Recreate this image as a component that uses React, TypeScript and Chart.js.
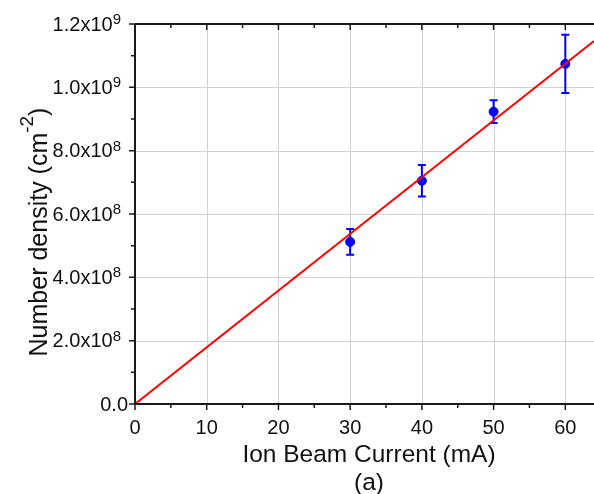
import React, { useEffect, useRef } from "react";
import { Chart, registerables } from "chart.js";

Chart.register(...registerables);

const xValues = [30, 40, 50, 60];
const yValues = [5.12e8, 7.05e8, 9.23e8, 10.74e8];
const yErrors = [0.41e8, 0.5e8, 0.36e8, 0.92e8];
const fitX = [0, 64];
const fitY = [0, 1.146e9];
const xMajorTicks = [0, 10, 20, 30, 40, 50, 60];
const xMinorTicks = [5, 15, 25, 35, 45, 55];
const yMajorTicks = [0, 2e8, 4e8, 6e8, 8e8, 1e9, 1.2e9];
const yMinorTicks = [1e8, 3e8, 5e8, 7e8, 9e8, 1.1e9];
const yTickMain = ["0.0", "2.0x10", "4.0x10", "6.0x10", "8.0x10", "1.0x10", "1.2x10"];
const yTickExp = ["", "8", "8", "8", "8", "9", "9"];

const FONT = "'Liberation Sans', Arial, sans-serif";

const customPlugin = {
  id: "custom",
  beforeDatasetsDraw(chart: any) {
    const ctx = chart.ctx;
    const xs = chart.scales.x;
    const ys = chart.scales.y;
    const a = chart.chartArea;
    ctx.save();
    ctx.strokeStyle = "#d2d2d2";
    ctx.lineWidth = 1;
    xMajorTicks.forEach((v) => {
      if (v === 0) return;
      const px = Math.round(xs.getPixelForValue(v)) + 0.5;
      ctx.beginPath();
      ctx.moveTo(px, a.top);
      ctx.lineTo(px, a.bottom);
      ctx.stroke();
    });
    yMajorTicks.forEach((v) => {
      if (v === 0 || v === 1.2e9) return;
      const py = Math.round(ys.getPixelForValue(v)) + 0.5;
      ctx.beginPath();
      ctx.moveTo(a.left, py);
      ctx.lineTo(a.right, py);
      ctx.stroke();
    });
    // error bars
    ctx.strokeStyle = "#0000ff";
    ctx.lineWidth = 2;
    xValues.forEach((x, i) => {
      const px = xs.getPixelForValue(x);
      const top = ys.getPixelForValue(yValues[i] + yErrors[i]);
      const bot = ys.getPixelForValue(yValues[i] - yErrors[i]);
      ctx.beginPath();
      ctx.moveTo(px, top);
      ctx.lineTo(px, bot);
      ctx.moveTo(px - 4, top);
      ctx.lineTo(px + 4, top);
      ctx.moveTo(px - 4, bot);
      ctx.lineTo(px + 4, bot);
      ctx.stroke();
    });
    ctx.restore();
  },
  afterDraw(chart: any) {
    const ctx = chart.ctx;
    const xs = chart.scales.x;
    const ys = chart.scales.y;
    const a = chart.chartArea;
    ctx.save();
    ctx.strokeStyle = "#1a1a1a";
    ctx.lineWidth = 2;
    ctx.beginPath();
    ctx.moveTo(a.left, a.top);
    ctx.lineTo(a.left, a.bottom);
    ctx.lineTo(a.right, a.bottom);
    ctx.moveTo(a.left, a.top);
    ctx.lineTo(a.right, a.top);
    ctx.stroke();
    ctx.lineWidth = 1.5;
    ctx.beginPath();
    xMajorTicks.forEach((v) => {
      const px = xs.getPixelForValue(v);
      ctx.moveTo(px, a.bottom);
      ctx.lineTo(px, a.bottom + 6);
      ctx.moveTo(px, a.top);
      ctx.lineTo(px, a.top + 6);
    });
    xMinorTicks.forEach((v) => {
      const px = xs.getPixelForValue(v);
      ctx.moveTo(px, a.bottom);
      ctx.lineTo(px, a.bottom + 4);
      ctx.moveTo(px, a.top);
      ctx.lineTo(px, a.top + 4);
    });
    yMajorTicks.forEach((v) => {
      const py = ys.getPixelForValue(v);
      ctx.moveTo(a.left, py);
      ctx.lineTo(a.left - 6, py);
    });
    yMinorTicks.forEach((v) => {
      const py = ys.getPixelForValue(v);
      ctx.moveTo(a.left, py);
      ctx.lineTo(a.left - 4, py);
    });
    ctx.stroke();

    ctx.fillStyle = "#111";
    // x tick labels
    ctx.font = `20px ${FONT}`;
    ctx.textAlign = "center";
    ctx.textBaseline = "alphabetic";
    xMajorTicks.forEach((v) => {
      ctx.fillText(String(v), xs.getPixelForValue(v), a.bottom + 29.5);
    });
    // y tick labels
    yMajorTicks.forEach((v, i) => {
      const py = ys.getPixelForValue(v);
      const exp = yTickExp[i];
      if (!exp) {
        ctx.font = `20px ${FONT}`;
        ctx.textAlign = "right";
        ctx.textBaseline = "middle";
        ctx.fillText(yTickMain[i], a.left - 7, py + 1);
        return;
      }
      ctx.font = `15px ${FONT}`;
      const ew = ctx.measureText(exp).width;
      const right = a.left - 14;
      ctx.textAlign = "left";
      ctx.textBaseline = "alphabetic";
      ctx.fillText(exp, right - ew, py);
      ctx.font = `20px ${FONT}`;
      ctx.textAlign = "right";
      ctx.textBaseline = "middle";
      ctx.fillText(yTickMain[i], right - ew, py + 1);
    });
    // x title
    ctx.font = `24.5px ${FONT}`;
    ctx.textAlign = "center";
    ctx.textBaseline = "alphabetic";
    ctx.fillText("Ion Beam Current (mA)", 369, 462);
    ctx.fillText("(a)", 369, 490);
    // y title
    ctx.save();
    ctx.translate(47, 232);
    ctx.rotate(-Math.PI / 2);
    const p1 = "Number density (cm";
    const sup = "-2";
    const p3 = ")";
    ctx.font = `25px ${FONT}`;
    const w1 = ctx.measureText(p1).width;
    const w3 = ctx.measureText(p3).width;
    ctx.font = `19px ${FONT}`;
    const w2 = ctx.measureText(sup).width;
    const total = w1 + w2 + w3;
    let x0 = -total / 2;
    ctx.textAlign = "left";
    ctx.font = `25px ${FONT}`;
    ctx.fillText(p1, x0, 0);
    ctx.font = `19px ${FONT}`;
    ctx.fillText(sup, x0 + w1, -14);
    ctx.font = `25px ${FONT}`;
    ctx.fillText(p3, x0 + w1 + w2, 0);
    ctx.restore();
    ctx.restore();
  },
};

export default function App() {
  const ref = useRef<HTMLCanvasElement | null>(null);
  useEffect(() => {
    if (!ref.current) return;
    const chart = new Chart(ref.current, {
      type: "scatter",
      data: {
        datasets: [
          {
            type: "line",
            label: "fit",
            data: fitX.map((x, i) => ({ x, y: fitY[i] })),
            borderColor: "#ff0000",
            borderWidth: 2,
            pointRadius: 0,
            showLine: true,
            fill: false,
          } as any,
          {
            label: "data",
            data: xValues.map((x, i) => ({ x, y: yValues[i] })),
            backgroundColor: "#0000ff",
            borderColor: "#0000ff",
            pointRadius: 4.5,
            borderWidth: 1,
          },
        ],
      },
      options: {
        responsive: false,
        animation: false,
        layout: { autoPadding: false, padding: { top: 24, left: 0, right: 0, bottom: 0 } },
        plugins: { legend: { display: false }, tooltip: { enabled: false } },
        scales: {
          x: {
            type: "linear",
            min: 0,
            max: 64,
            ticks: { display: false },
            grid: { display: false },
            border: { display: false },
            afterFit: (s: any) => {
              s.height = 90;
            },
          },
          y: {
            type: "linear",
            min: 0,
            max: 1.2e9,
            ticks: { display: false },
            grid: { display: false },
            border: { display: false },
            afterFit: (s: any) => {
              s.width = 135;
            },
          },
        },
      },
      plugins: [customPlugin],
    });
    return () => chart.destroy();
  }, []);
  return (
    <div style={{ position: "absolute", left: 0, top: 0, width: 594, height: 494, background: "#fff" }}>
      <canvas ref={ref} width={594} height={494} style={{ display: "block" }} />
    </div>
  );
}
